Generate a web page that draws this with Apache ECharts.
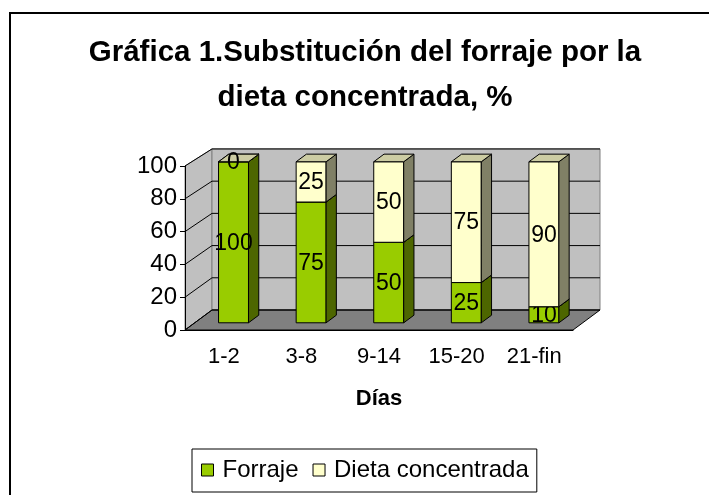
<!DOCTYPE html>
<html><head><meta charset="utf-8">
<script src="https://cdn.jsdelivr.net/npm/echarts@6/dist/echarts.min.js"></script>
<style>html,body{margin:0;padding:0;background:#fff}#c{width:709px;height:495px}</style>
</head><body><div id="c"></div>
<script>
const categories = ['1-2', '3-8', '9-14', '15-20', '21-fin'];
const forraje = [100, 75, 50, 25, 10];
const dieta = [0, 25, 50, 75, 90];
const yTicks = [0, 20, 40, 60, 80, 100];
const seriesNames = ['Forraje', 'Dieta concentrada'];

const FONT = 'Liberation Sans, Arial, sans-serif';
const DX = 27, DY = -20;          // full depth offset
const F1 = 0.36, F2 = 0.74;       // bar front/back depth fraction
const SB = 0.982;                 // slight perspective shrink
const colors = {
  green: {front: '#99CC00', side: '#4D6600', top: '#B8D64D'},
  yellow: {front: '#FFFFCC', side: '#808066', top: '#CCCCA3'}
};

function projector(params) {
  const cs = params.coordSys;
  const y0 = cs.y + cs.height;
  return function (x, y, d, s) {
    return [x + d * DX, y0 + d * DY - (y0 - y) * s];
  };
}

function renderWalls(params, api) {
  const cs = params.coordSys;
  const x0 = cs.x, x1 = cs.x + cs.width, y0 = cs.y + cs.height;
  const yTop = api.coord([0, 100])[1];
  const P = projector(params);
  const ch = [];
  ch.push({type: 'polygon', shape: {points: [P(x0, y0, 0, 1), P(x0, yTop, 0, 1), P(x0, yTop, 1, SB), P(x0, y0, 1, SB)]},
    style: {fill: '#C0C0C0', stroke: '#808080', lineWidth: 1}});
  ch.push({type: 'polygon', shape: {points: [P(x0, yTop, 1, SB), P(x1, yTop, 1, SB), P(x1, y0, 1, SB), P(x0, y0, 1, SB)]},
    style: {fill: '#C0C0C0', stroke: '#808080', lineWidth: 1}});
  ch.push({type: 'polygon', shape: {points: [P(x0, y0, 0, 1), P(x1, y0, 0, 1), P(x1, y0, 1, SB), P(x0, y0, 1, SB)]},
    style: {fill: '#808080', stroke: '#000', lineWidth: 1}});
  yTicks.forEach(function (v) {
    const y = api.coord([0, v])[1];
    ch.push({type: 'polyline', shape: {points: [P(x0, y, 0, 1), P(x0, y, 1, SB), P(x1, y, 1, SB)]},
      style: {stroke: '#000', lineWidth: 1, fill: null}});
  });
  return {type: 'group', children: ch};
}

function makeBarRenderer(col) {
  return function (params, api) {
    const P = projector(params);
    const i = api.value(0), lo = api.value(1), hi = api.value(2), lab = api.value(3);
    const cx = api.coord([i, 0])[0];
    const bw = api.size([1, 0])[0] * 0.386;
    const L = cx - bw / 2, R = cx + bw / 2;
    const yb = api.coord([i, lo])[1], yt = api.coord([i, hi])[1];
    const st = {stroke: '#000', lineWidth: 1};
    const ch = [
      {type: 'polygon', shape: {points: [P(L, yb, F1, SB), P(R, yb, F1, SB), P(R, yt, F1, SB), P(L, yt, F1, SB)]},
        style: Object.assign({fill: col.front}, st)},
      {type: 'polygon', shape: {points: [P(R, yb, F1, SB), P(R, yb, F2, SB), P(R, yt, F2, SB), P(R, yt, F1, SB)]},
        style: Object.assign({fill: col.side}, st)},
      {type: 'polygon', shape: {points: [P(L, yt, F1, SB), P(R, yt, F1, SB), P(R, yt, F2, SB), P(L, yt, F2, SB)]},
        style: Object.assign({fill: col.top}, st)}
    ];
    const c = P(cx, (yb + yt) / 2, F1, SB);
    ch.push({type: 'text', z2: 10, style: {text: String(lab), x: c[0], y: c[1] + 1, align: 'center', verticalAlign: 'middle',
      fontSize: 23, fontFamily: FONT, fill: '#000'}});
    return {type: 'group', children: ch};
  };
}

const greenData = categories.map(function (c, i) { return [i, 0, forraje[i], forraje[i]]; });
const yellowData = categories.map(function (c, i) { return [i, forraje[i], forraje[i] + dieta[i], dieta[i]]; });

const chart = echarts.init(document.getElementById('c'), null, {renderer: 'canvas'});
chart.setOption({
  animation: false,
  backgroundColor: '#fff',
  title: {
    text: 'Gráfica 1.Substitución del forraje por la\ndieta concentrada, %',
    left: 360, top: 25,
    textAlign: 'center',
    textStyle: {fontFamily: FONT, fontWeight: 'bold', fontSize: 29.5, lineHeight: 45, color: '#000'}
  },
  graphic: [{type: 'rect', shape: {x: 10, y: 13, width: 720, height: 500}, style: {fill: null, stroke: '#000', lineWidth: 2}, z: -10}],
  grid: {left: 185, top: 166, width: 388, height: 164},
  legend: {
    data: seriesNames,
    left: 192, top: 449,
    itemWidth: 12, itemHeight: 12, itemGap: 14,
    padding: [9, 8, 10, 9],
    borderColor: '#000', borderWidth: 1,
    icon: 'rect',
    itemStyle: {borderColor: '#000', borderWidth: 1},
    textStyle: {fontFamily: FONT, fontSize: 24, color: '#000', padding: [0, 0, 0, 4]}
  },
  xAxis: {
    type: 'category', data: categories, z: 5,
    axisLine: {lineStyle: {color: '#000', width: 1}},
    axisTick: {length: 6, lineStyle: {color: '#000'}},
    axisLabel: {fontFamily: FONT, fontSize: 22, color: '#000', margin: 16},
    name: 'Días', nameLocation: 'middle', nameGap: 58,
    nameTextStyle: {fontFamily: FONT, fontWeight: 'bold', fontSize: 22, color: '#000'}
  },
  yAxis: {
    type: 'value', min: 0, max: 100, interval: 20, z: 5,
    axisLine: {show: true, lineStyle: {color: '#000', width: 1}},
    axisTick: {show: true, length: 5, lineStyle: {color: '#000'}},
    axisLabel: {fontFamily: FONT, fontSize: 24, color: '#000', margin: 8},
    splitLine: {show: false}
  },
  series: [
    {type: 'custom', name: '_walls', data: [[0]], renderItem: renderWalls, z: 0, silent: true},
    {type: 'custom', name: seriesNames[0], data: greenData, renderItem: makeBarRenderer(colors.green), z: 2,
      itemStyle: {color: colors.green.front}, encode: {x: 0, y: [1, 2]}},
    {type: 'custom', name: seriesNames[1], data: yellowData, renderItem: makeBarRenderer(colors.yellow), z: 3,
      itemStyle: {color: colors.yellow.front}, encode: {x: 0, y: [1, 2]}}
  ]
});
</script>
</body></html>
